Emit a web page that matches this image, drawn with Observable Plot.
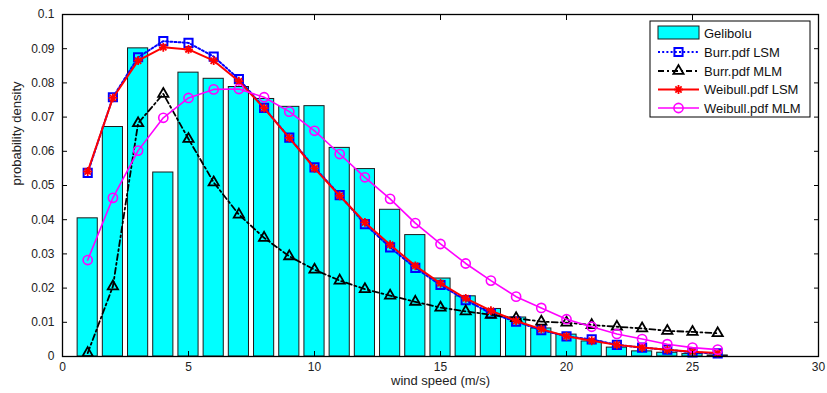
<!DOCTYPE html>
<html>
<head>
<meta charset="utf-8">
<script src="https://cdn.jsdelivr.net/npm/d3@7"></script>
<script src="https://cdn.jsdelivr.net/npm/@observablehq/plot@0.6"></script>
<style>
  body { margin: 0; background: #fff; font-family: "Liberation Sans", Arial, sans-serif; }
  #wrap { position: relative; width: 827px; height: 393px; }
  #legend { position: absolute; left: 0; top: 0; pointer-events: none; }
</style>
</head>
<body>
<div id="wrap"></div>
<script>
// ---- data ----
const speeds = [1,2,3,4,5,6,7,8,9,10,11,12,13,14,15,16,17,18,19,20,21,22,23,24,25,26];
const gelibolu = [0.0404,0.0671,0.0901,0.0538,0.0830,0.0812,0.0788,0.0753,0.0730,0.0732,0.0610,0.0548,0.0429,0.0355,0.0228,0.0176,0.0139,0.0114,0.0082,0.0064,0.0044,0.0026,0.0015,0.0011,0.0007,0.0003];
const burrLSM = [0.0537,0.0758,0.0875,0.0922,0.0917,0.0877,0.0811,0.0727,0.0640,0.0553,0.0472,0.0387,0.0319,0.0259,0.0209,0.0165,0.0126,0.0102,0.0077,0.0059,0.0050,0.0034,0.0026,0.0020,0.0012,0.0009];
const burrMLM = [0.0010,0.0205,0.0682,0.0768,0.0636,0.0509,0.0415,0.0347,0.0293,0.0254,0.0222,0.0197,0.0178,0.0160,0.0143,0.0132,0.0122,0.0112,0.0102,0.0099,0.0092,0.0087,0.0082,0.0075,0.0072,0.0068];
const weibullLSM = [0.0541,0.0756,0.0865,0.0904,0.0898,0.0865,0.0805,0.0726,0.0639,0.0550,0.0470,0.0392,0.0327,0.0265,0.0214,0.0170,0.0134,0.0104,0.0080,0.0059,0.0046,0.0034,0.0026,0.0020,0.0014,0.0010];
const weibullMLM = [0.0282,0.0464,0.0602,0.0698,0.0756,0.0781,0.0782,0.0758,0.0716,0.0660,0.0592,0.0524,0.0461,0.0390,0.0329,0.0272,0.0222,0.0175,0.0142,0.0109,0.0087,0.0066,0.0051,0.0036,0.0026,0.0020];
const xTicks = [0,5,10,15,20,25,30];
const xTickLabels = ["0","5","10","15","20","25","30"];
const yTicks = [0,0.01,0.02,0.03,0.04,0.05,0.06,0.07,0.08,0.09,0.1];
const yTickLabels = ["0","0.01","0.02","0.03","0.04","0.05","0.06","0.07","0.08","0.09","0.1"];
const barName = "Gelibolu";
const seriesNames = ["Burr.pdf LSM","Burr.pdf MLM","Weibull.pdf LSM","Weibull.pdf MLM"];
const xLabel = "wind speed (m/s)";
const yLabel = "probability density";

// ---- styles ----
const star8 = {
  draw(ctx, size) {
    const r = Math.sqrt(size / Math.PI);
    const d = r * Math.SQRT1_2;
    ctx.moveTo(-r, 0); ctx.lineTo(r, 0);
    ctx.moveTo(0, -r); ctx.lineTo(0, r);
    ctx.moveTo(-d, -d); ctx.lineTo(d, d);
    ctx.moveTo(-d, d); ctx.lineTo(d, -d);
  }
};
const styles = [
  {color: "#0000ff", dash: "2,2.2", width: 2, symbol: "square", r: 4.6, fill: "none", sw: 2},
  {color: "#000000", dash: "6,3,2,3", width: 1.8, symbol: "triangle", r: 3.8, fill: "none", sw: 1.8},
  {color: "#ff0000", dash: null, width: 2, symbol: star8, r: 4.4, fill: "none", sw: 1.8},
  {color: "#ff00ff", dash: null, width: 1.6, symbol: "circle", r: 4.6, fill: "none", sw: 1.6}
];
const seriesValues = [burrLSM, burrMLM, weibullLSM, weibullMLM];

const bars = speeds.map((s, i) => ({speed: s, density: gelibolu[i]}));
const barHalf = 0.4;

const marks = [
  Plot.rectY(bars, {x1: d => d.speed - barHalf, x2: d => d.speed + barHalf, y1: () => 0, y2: "density",
    fill: "#00ffff", stroke: "#1a1a1a", strokeWidth: 1})
];
seriesValues.forEach((vals, k) => {
  const st = styles[k];
  const data = speeds.map((s, i) => ({speed: s, v: vals[i]}));
  marks.push(Plot.line(data, {x: "speed", y: "v", stroke: st.color, strokeWidth: st.width,
    strokeDasharray: st.dash ?? undefined}));
  marks.push(Plot.dot(data, {x: "speed", y: "v", symbol: st.symbol, r: st.r, stroke: st.color,
    fill: st.fill, strokeWidth: st.sw}));
});

marks.push(
  Plot.frame({stroke: "#000", strokeWidth: 1.3}),
  // labels
  Plot.axisX(xTicks, {anchor: "bottom", tickSize: 0, tickPadding: 6, label: null,
    tickFormat: d => xTickLabels[xTicks.indexOf(d)], fill: "#222"}),
  Plot.axisY(yTicks, {anchor: "left", tickSize: 0, tickPadding: 8, label: null,
    tickFormat: d => yTickLabels[Math.round(d * 100)], fill: "#222"}),
  // inward ticks (MATLAB style) on all sides
  Plot.axisX(xTicks, {anchor: "bottom", tickSize: -5, tickFormat: () => "", label: null}),
  Plot.axisX(xTicks, {anchor: "top", tickSize: -5, tickFormat: () => "", label: null}),
  Plot.axisY(yTicks, {anchor: "left", tickSize: -5, tickFormat: () => "", label: null}),
  Plot.axisY(yTicks, {anchor: "right", tickSize: -5, tickFormat: () => "", label: null}),
  Plot.text([xLabel], {frameAnchor: "bottom", dy: 28, fontSize: 13, fill: "#222"}),
  Plot.text([yLabel], {frameAnchor: "left", rotate: -90, dx: -46, fontSize: 13, fill: "#222"})
);

const chart = Plot.plot({
  width: 827,
  height: 393,
  marginLeft: 62,
  marginRight: 9,
  marginTop: 14,
  marginBottom: 37,
  style: {fontFamily: "Liberation Sans, Arial, sans-serif", fontSize: "12px", background: "#fff", overflow: "visible"},
  x: {domain: [0, 30], axis: null},
  y: {domain: [0, 0.1], axis: null},
  marks
});
document.getElementById("wrap").appendChild(chart);

// ---- legend (overlay) ----
const lg = d3.select("#wrap").append("svg").attr("id", "legend").attr("width", 827).attr("height", 393)
  .style("font-family", "Liberation Sans, Arial, sans-serif").style("font-size", "13px");
const L = {x: 650, y: 21, w: 160, h: 96, rowY: [33, 52, 71, 89.5, 108], sx1: 658, sx2: 699, tx: 704};
lg.append("rect").attr("x", L.x).attr("y", L.y).attr("width", L.w).attr("height", L.h)
  .attr("fill", "#fff").attr("stroke", "#000").attr("stroke-width", 1);
lg.append("rect").attr("x", L.sx1).attr("y", L.rowY[0] - 7).attr("width", L.sx2 - L.sx1).attr("height", 13)
  .attr("fill", "#00ffff").attr("stroke", "#1a1a1a");
lg.append("text").attr("x", L.tx).attr("y", L.rowY[0]).attr("dy", "0.35em").text(barName).attr("fill", "#111");
seriesNames.forEach((name, k) => {
  const st = styles[k];
  const y = L.rowY[k + 1];
  lg.append("line").attr("x1", L.sx1).attr("x2", L.sx2).attr("y1", y).attr("y2", y)
    .attr("stroke", st.color).attr("stroke-width", st.width).attr("stroke-dasharray", st.dash);
  const sym = typeof st.symbol === "string" ? {square: d3.symbolSquare, triangle: d3.symbolTriangle, circle: d3.symbolCircle}[st.symbol] : st.symbol;
  lg.append("path").attr("transform", `translate(${(L.sx1 + L.sx2) / 2},${y})`)
    .attr("d", d3.symbol(sym, st.r * st.r * Math.PI)())
    .attr("fill", "none").attr("stroke", st.color).attr("stroke-width", st.sw);
  lg.append("text").attr("x", L.tx).attr("y", y).attr("dy", "0.35em").text(name).attr("fill", "#111");
});
</script>
</body>
</html>
